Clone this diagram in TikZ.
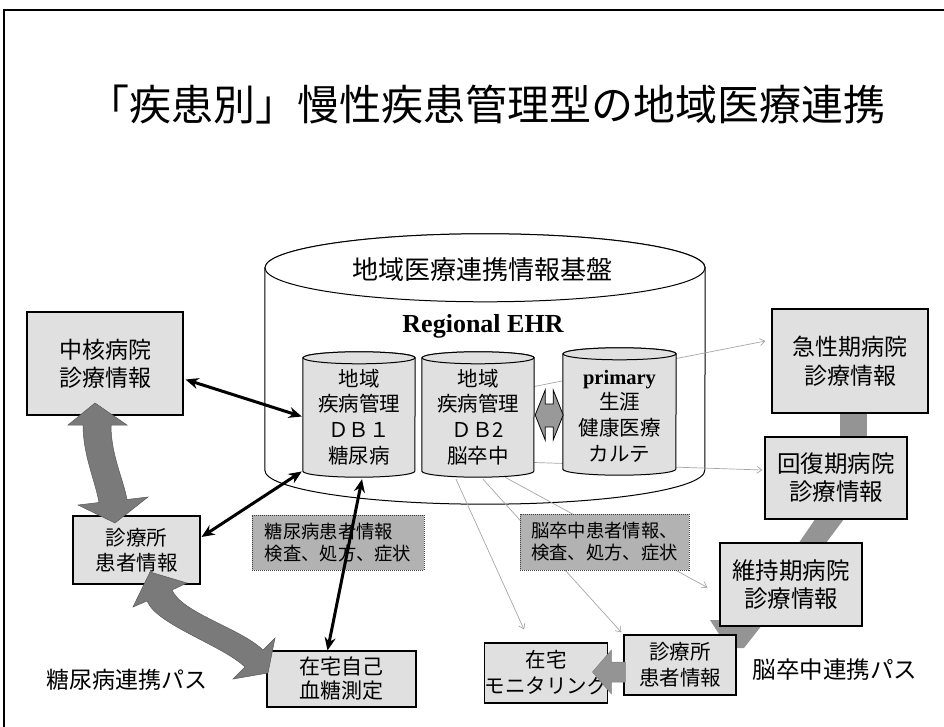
\documentclass[tikz,border=0pt]{standalone}
\usepackage{fontspec}
\setmainfont{Liberation Serif}
\newfontfamily\jp{Noto Sans CJK JP}
\usetikzlibrary{arrows.meta,calc}
\pgfdeclarelayer{back}
\pgfsetlayers{back,main}
\newcommand\fz[2]{\fontsize{#1}{#2}\selectfont}
% cylinder outline around a placeholder node: name, x radius, y radius, style
\newcommand\cylshape[4]{%
  \filldraw[#4] ($(#1.north west)+(0,#3)$) -- ($(#1.south west)+(0,-#3)$)
    arc[start angle=180,end angle=0,x radius=#2,y radius=#3]
    -- ($(#1.north east)+(0,#3)$)
    arc[start angle=0,end angle=-180,x radius=#2,y radius=#3] -- cycle;
  \draw[#4] ($(#1.north)+(0,#3)$) ellipse[x radius=#2,y radius=#3];
}
\tikzset{
  box/.style={draw=black, line width=1.1pt, fill=black!12, inner sep=0pt, align=center},
  lbl/.style={draw=black!75, densely dotted, line width=1pt, fill=black!30, inner sep=0pt, align=left},
  txt/.style={inner sep=0pt, align=center},
  holder/.style={inner sep=0pt},
  blk/.style={line width=3pt, {Stealth[length=13pt,width=11pt]}-{Stealth[length=13pt,width=11pt]}},
  greyline/.style={draw=black!35, line width=0.7pt, -{Straight Barb[length=5pt,width=7pt]}},
  band/.style={fill=black!42, draw=none},
  fat/.style={fill=black!52, draw=black!65, line width=0.5pt},
  smallcyl/.style={draw=black, line width=1pt, fill=black!12},
}
\begin{document}
\begin{tikzpicture}[x=1pt,y=-1pt]
\useasboundingbox (0,0) rectangle (944,727);
\draw[line width=1.5pt] (4,727) -- (4,10) -- (944,10);

% title
\node[txt, font=\jp\fz{42}{48}] (title) at (486,105) {「疾患別」慢性疾患管理型の地域医療連携};

% big cylinder
\node[holder, minimum width=440pt, minimum height=270pt] (ehr) at (485,369) {};
\begin{pgfonlayer}{back}
\cylshape{ehr}{220}{34}{draw=black, line width=1pt, fill=white}
\end{pgfonlayer}
\node[txt, font=\jp\fz{26}{30}] (ehrtitle) at (482,270) {地域医療連携情報基盤};
\node[txt, font=\fz{26}{30}\bfseries] (ehrsub) at (483,326) {Regional EHR};

% small cylinders
\node[holder, minimum width=112pt, minimum height=125pt] (db1) at (359,414.5) {};
\node[holder, minimum width=112pt, minimum height=125pt] (db2) at (478,414.5) {};
\node[holder, minimum width=113pt, minimum height=127pt] (prim) at (619.5,411.5) {};
\cylshape{db1}{56}{6}{smallcyl}
\cylshape{db2}{56}{6}{smallcyl}
\cylshape{prim}{56.5}{6}{smallcyl}
\node[txt, font=\jp\fz{20.5}{25.7}] (db1t) at (359,417) {地域\\疾病管理\\ＤＢ１\\糖尿病};
\node[txt, font=\jp\fz{20.5}{25.7}] (db2t) at (478,417) {地域\\疾病管理\\ＤＢ2\\脳卒中};
\node[txt, font=\jp\fz{20.5}{25.7}] (primt) at (619.5,416) {{\rmfamily\bfseries\fz{20.5}{25.7}primary}\\生涯\\健康医療\\カルテ};

% boxes
\node[box, minimum width=156pt, minimum height=103pt, font=\jp\fz{23}{28}] (chukaku) at (105,363.5) {中核病院\\診療情報};
\node[box, minimum width=127pt, minimum height=68pt, font=\jp\fz{20.5}{25}] (shinryoL) at (136.5,550) {診療所\\患者情報};
\node[box, minimum width=149pt, minimum height=56pt, font=\jp\fz{21}{24}] (zaitakuJ) at (341.5,679) {在宅自己\\血糖測定};
\node[box, minimum width=156pt, minimum height=104pt, font=\jp\fz{23}{29}] (kyusei) at (850,361) {急性期病院\\診療情報};
\node[box, minimum width=142pt, minimum height=82pt, font=\jp\fz{23.5}{28}] (kaifuku) at (836,478) {回復期病院\\診療情報};
\node[box, minimum width=142pt, minimum height=83pt, font=\jp\fz{23.5}{28}] (iji) at (791,584.5) {維持期病院\\診療情報};
\node[box, minimum width=112pt, minimum height=60pt, font=\jp\fz{20.5}{26}] (shinryoR) at (680,665) {診療所\\患者情報};
\node[box, minimum width=112pt, minimum height=60pt, font=\jp\fz{20.5}{26}] (zaitakuM) at (546,673) {在宅\\モニタリング};

% faint lines and bands behind
\begin{pgfonlayer}{back}
\draw[greyline] ($(db2.east)+(0,-28)$) -- ($(kyusei.west)+(-6,-20)$);
\draw[greyline] ($(db2.east)+(0,48)$) -- ($(kaifuku.west)+(-2,-8)$);
\draw[greyline] ($(db2.south)+(27,0)$) -- ($(iji.west)+(-12,3)$);
\draw[greyline] ($(db2.south)+(5,2)$) -- ($(shinryoR.north west)+(-2,-2)$);
\draw[greyline] ($(db2.south)+(-22,2)$) -- ($(zaitakuM.north)+(-22,-13)$);
\fill[band] (840,410) rectangle (867,440);
\fill[band] (818,515) -- (847,515) -- (823,547) -- (796,547) -- cycle;
\fill[band] (710,620) -- (766,620) -- (744,648) -- (728,648) -- cycle;
\end{pgfonlayer}

% double arrow between DB2 and primary
\filldraw[fill=black!40, draw=black, line width=0.8pt]
  (db2.east) ++(1,0.5) -- ++(10,-25) -- ++(0,14) -- ++(8,0) -- ++(0,-14) -- ++(10,25)
  -- ++(-10,25) -- ++(0,-13) -- ++(-8,0) -- ++(0,13) -- cycle;

% fat gray arrows (diabetes path)
\filldraw[fat] (95,403) -- (127,425) -- (111,425) .. controls (111,455) and (123,478) .. (127,499.5)
  -- (148,497) -- (115,523) -- (78,505) -- (99,502.5) .. controls (95,480) and (83,455) .. (83,425)
  -- (68,425) -- cycle;
\filldraw[fat] (150,572) -- (187,583) -- (172,590) .. controls (182,613) and (240,628) .. (263,650)
  -- (275,638) -- (268,673) -- (233,679) -- (245,667) .. controls (222,645) and (157,625) .. (147,601)
  -- (133,607) -- cycle;

% arrow clinic -> home monitoring
\filldraw[fat, fill=black!42, draw=black!50]
  ($(shinryoR.west)+(2,-3)$) -- ++(-14,0) -- ++(0,-12) -- ++(-19,22) -- ++(19,22) -- ++(0,-12) -- ++(14,0) -- cycle;

% info labels
\node[lbl, minimum width=172pt, minimum height=55pt, font=\jp\fz{18.3}{22}] (labelL) at (338,542.5) {糖尿病患者情報\\検査、処方、症状};
\node[lbl, minimum width=169pt, minimum height=56pt, font=\jp\fz{18.3}{22}] (labelR) at (604.5,542) {脳卒中患者情報、\\検査、処方、症状};

% black arrows
\draw[blk] ($(chukaku.east)+(2,16)$) -- ($(db1.west)+(-1,2)$);
\draw[blk] ($(shinryoL.east)+(1,-13)$) -- ($(db1.west)+(-1,57)$);
\draw[blk] ($(zaitakuJ.north)+(-14,0)$) -- ($(db1.south)+(3,2)$);

% path labels
\node[txt, font=\jp\fz{23}{26}] (pathL) at (127,680) {糖尿病連携パス};
\node[txt, font=\jp\fz{23.5}{26}] (pathR) at (835,670) {脳卒中連携パス};
\end{tikzpicture}
\end{document}
